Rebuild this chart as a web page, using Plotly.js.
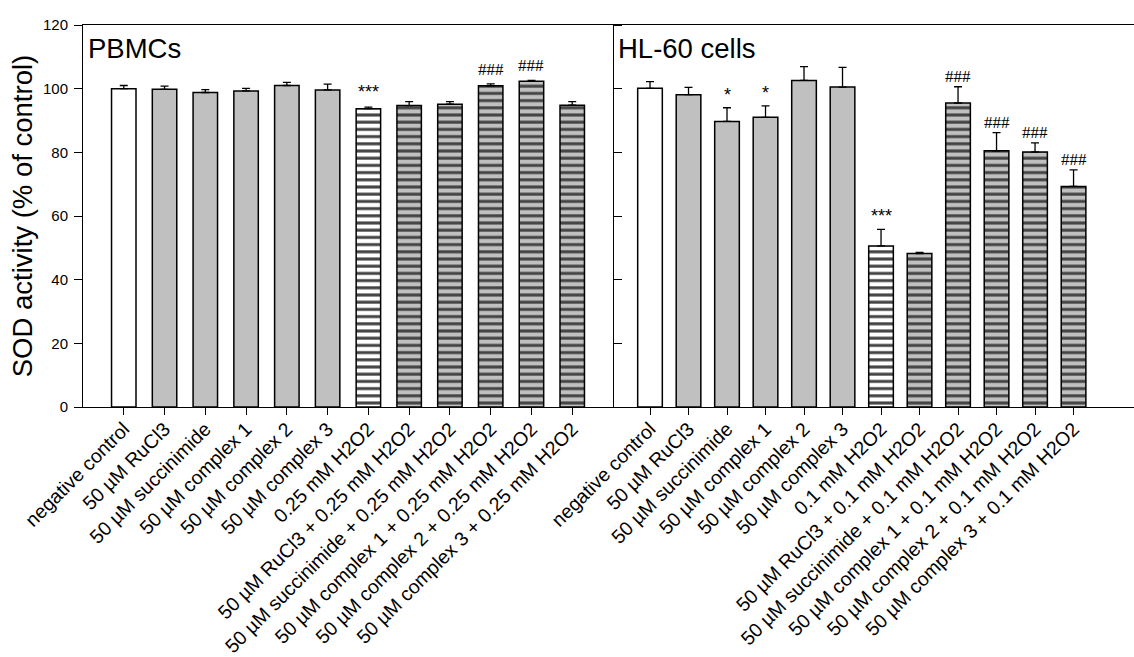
<!DOCTYPE html>
<html>
<head>
<meta charset="utf-8">
<script src="https://cdn.plot.ly/plotly-3.0.1.min.js"></script>
<style>html,body{margin:0;padding:0;background:#fff;}#chart{width:1134px;height:657px;}</style>
</head>
<body>
<div id="chart"></div>
<script>
// ---- data ----
const labelsPBMC = ["negative control", "50 µM RuCl3", "50 µM succinimide", "50 µM complex 1", "50 µM complex 2", "50 µM complex 3",
  "0.25 mM H2O2", "50 µM RuCl3 + 0.25 mM H2O2", "50 µM succinimide + 0.25 mM H2O2", "50 µM complex 1 + 0.25 mM H2O2",
  "50 µM complex 2 + 0.25 mM H2O2", "50 µM complex 3 + 0.25 mM H2O2"];
const valuesPBMC = [100.0, 99.8, 98.8, 99.3, 101.0, 99.6, 93.7, 94.7, 95.1, 100.9, 102.3, 94.8];
const errorsPBMC = [1.0, 1.0, 0.9, 0.8, 1.0, 1.8, 0.5, 1.2, 0.8, 0.6, 0.3, 1.1];
const sigPBMC = ["", "", "", "", "", "", "***", "", "", "###", "###", ""];

const labelsHL60 = ["negative control", "50 µM RuCl3", "50 µM succinimide", "50 µM complex 1", "50 µM complex 2", "50 µM complex 3",
  "0.1 mM H2O2", "50 µM RuCl3 + 0.1 mM H2O2", "50 µM succinimide + 0.1 mM H2O2", "50 µM complex 1 + 0.1 mM H2O2",
  "50 µM complex 2 + 0.1 mM H2O2", "50 µM complex 3 + 0.1 mM H2O2"];
const valuesHL60 = [100.1, 98.1, 89.7, 91.0, 102.6, 100.5, 50.6, 48.2, 95.5, 80.5, 80.1, 69.3];
const errorsHL60 = [2.1, 2.3, 4.3, 3.6, 4.3, 6.2, 5.2, 0.4, 5.1, 5.7, 2.9, 5.2];
const sigHL60 = ["", "", "*", "*", "", "", "***", "", "###", "###", "###", "###"];

const yTicks = [0, 20, 40, 60, 80, 100, 120];

// ---- styling helpers ----
const GRAY = "#c0c0c0";
function fills(labels) {
  return labels.map((l, i) => (i === 0 || i === 6) ? "#ffffff" : GRAY);
}
function shapes(labels) {
  return labels.map((l, i) => i >= 6 ? "-" : "");
}
function barTrace(labels, vals, errs, xa, ya, w) {
  return {
    type: "bar", x: labels, y: vals, xaxis: xa, yaxis: ya, width: w,
    marker: {
      color: fills(labels),
      line: {color: "#000", width: 1.5},
      pattern: {shape: shapes(labels), fillmode: "overlay", fgcolor: "#111", fgopacity: 1, size: 7.2, solidity: 0.42}
    },
    error_y: {type: "data", symmetric: false, array: errs, arrayminus: errs.map(() => 0),
      color: "#000", thickness: 1.3, width: 4},
    showlegend: false, hoverinfo: "x+y"
  };
}

const traces = [
  barTrace(labelsPBMC, valuesPBMC, errorsPBMC, "x", "y", 0.6),
  barTrace(labelsHL60, valuesHL60, errorsHL60, "x2", "y2", 0.64)
];

const annotations = [];
function addSig(labels, vals, errs, sigs, xa, ya, hashShift, starShift) {
  sigs.forEach((s, i) => {
    if (!s) return;
    const isHash = s.indexOf("#") >= 0;
    annotations.push({
      x: labels[i], y: vals[i] + errs[i], xref: xa, yref: ya, text: s, showarrow: false,
      yanchor: "bottom", yshift: isHash ? hashShift : starShift,
      font: isHash ? {family: "Liberation Serif, Times New Roman, serif", size: 17, color: "#000"}
                   : {family: "Liberation Sans, Arial, sans-serif", size: 18, color: "#000"}
    });
  });
}
addSig(labelsPBMC, valuesPBMC, errorsPBMC, sigPBMC, "x", "y", 3, 3);
addSig(labelsHL60, valuesHL60, errorsHL60, sigHL60, "x2", "y2", -1, 1);

annotations.push({text: "PBMCs", xref: "paper", yref: "paper", x: 0.003, y: 0.985, xanchor: "left", yanchor: "top",
  showarrow: false, font: {family: "Liberation Sans, Arial, sans-serif", size: 27.5, color: "#000"}});
annotations.push({text: "HL-60 cells", xref: "paper", yref: "paper", x: 530/1051 + 0.003, y: 0.985, xanchor: "left", yanchor: "top",
  showarrow: false, font: {family: "Liberation Sans, Arial, sans-serif", size: 27.5, color: "#000"}});

const tickFont = {family: "Liberation Sans, Arial, sans-serif", size: 15, color: "#000"};
const xFont = {family: "Liberation Sans, Arial, sans-serif", size: 19.5, color: "#000"};

const layout = {
  width: 1134, height: 657,
  margin: {l: 83, r: 0, t: 25, b: 250.3, pad: 0},
  paper_bgcolor: "#fff", plot_bgcolor: "#fff",
  font: {family: "Liberation Sans, Arial, sans-serif", color: "#000"},
  xaxis: {domain: [0, 530/1051], type: "category", range: [-1, 12], showline: true, mirror: true,
    linecolor: "#000", linewidth: 1, ticks: "outside", ticklen: 7, tickcolor: "#000", tickwidth: 1,
    tickangle: -45, tickfont: xFont, ticklabelstandoff: -5, showgrid: false, zeroline: false, automargin: false, anchor: "y"},
  yaxis: {domain: [0, 1], range: [0, 120], tickvals: yTicks, showline: true, mirror: "ticks", linecolor: "#000", linewidth: 1,
    ticks: "outside", ticklen: 8, tickcolor: "#000", tickwidth: 1, tickfont: tickFont, ticklabelstandoff: 3,
    showgrid: false, zeroline: false, automargin: false, anchor: "x",
    title: {text: "SOD activity (% of control)", font: {family: "Liberation Sans, Arial, sans-serif", size: 27.5, color: "#000"}, standoff: 2}},
  xaxis2: {domain: [530/1051, 1], type: "category", range: [-0.961, 12.57], showline: true, mirror: true,
    linecolor: "#000", linewidth: 1, ticks: "outside", ticklen: 7, tickcolor: "#000", tickwidth: 1,
    tickangle: -45, tickfont: xFont, ticklabelstandoff: -5, showgrid: false, zeroline: false, automargin: false, anchor: "y2"},
  yaxis2: {domain: [0, 1], range: [0, 120], tickvals: yTicks, showline: false, ticks: "", showticklabels: false,
    showgrid: false, zeroline: false, anchor: "x2", automargin: false},
  annotations: annotations
};

Plotly.newPlot("chart", traces, layout, {displayModeBar: false, staticPlot: true});
</script>
</body>
</html>
